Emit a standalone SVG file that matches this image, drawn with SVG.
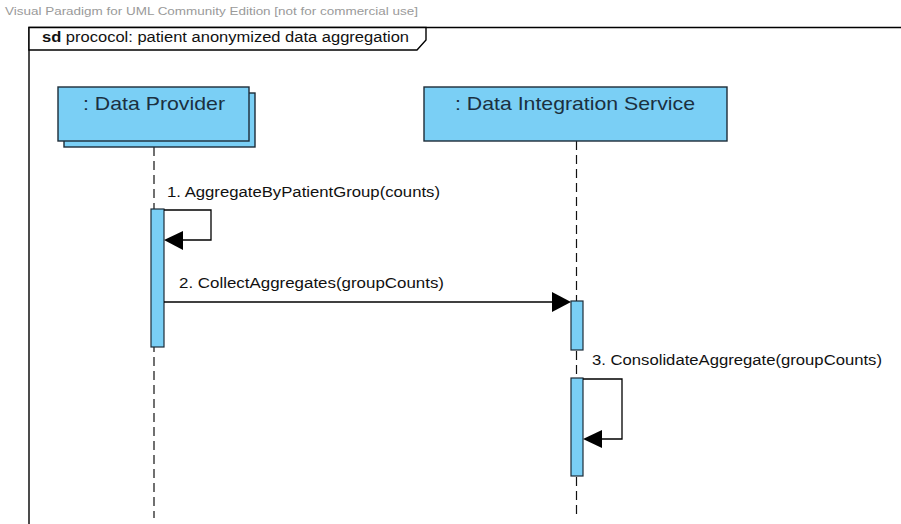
<svg xmlns="http://www.w3.org/2000/svg" width="901" height="524" viewBox="0 0 901 524">
  <style>
    .frame { fill: none; stroke: #000; stroke-width: 1.4; }
    .head { fill: #fff; stroke: #000; stroke-width: 1.4; }
    .obj { fill: #7ACFF5; stroke: #1d2c38; stroke-width: 1.4; }
    .act { fill: #7ACFF5; stroke: #1d2c38; stroke-width: 1.2; }
    .life { fill: none; stroke: #111; stroke-width: 1.2; stroke-dasharray: 9 5; }
    .msg { fill: none; stroke: #000; stroke-width: 1.3; }
    .tip { fill: #000; }
    .objtxt { font-family: "Liberation Sans", Arial, sans-serif; font-size: 19px; fill: #1b3040; }
    .lbl { font-family: "Liberation Sans", Arial, sans-serif; font-size: 14px; fill: #111; }
    .water { font-family: "Liberation Sans", Arial, sans-serif; font-size: 11.5px; fill: #9a9a9a; }
  </style>

  <rect width="901" height="524" fill="#fff"/>

  <!-- watermark -->
  <text class="water" x="5" y="15" textLength="413" lengthAdjust="spacingAndGlyphs">Visual Paradigm for UML Community Edition [not for commercial use]</text>

  <!-- interaction frame -->
  <g id="frame">
    <path class="frame" d="M29 524 V27.5 H901"/>
    <path class="head" d="M29 27.5 H426 V40 L417 50 H29 Z"/>
    <text class="lbl" x="42" y="42" textLength="367" lengthAdjust="spacingAndGlyphs"><tspan font-weight="bold">sd</tspan> prococol: patient anonymized data aggregation</text>
  </g>

  <!-- lifelines -->
  <g id="dataProvider">
    <line class="life" x1="154" y1="147" x2="154" y2="518"/>
    <rect class="obj" x="64" y="93" width="191" height="54"/>
    <rect class="obj" x="58" y="87" width="191" height="54"/>
    <text class="objtxt" x="83" y="110" textLength="142" lengthAdjust="spacingAndGlyphs">: Data Provider</text>
  </g>

  <g id="dataIntegrationService">
    <line class="life" x1="576.5" y1="141" x2="576.5" y2="518"/>
    <rect class="obj" x="424" y="87" width="303" height="54"/>
    <text class="objtxt" x="455" y="110" textLength="240" lengthAdjust="spacingAndGlyphs">: Data Integration Service</text>
  </g>

  <!-- activation bars -->
  <g id="activations">
    <rect class="act" x="151" y="209" width="13" height="138"/>
    <rect class="act" x="571" y="301" width="12" height="49"/>
    <rect class="act" x="571" y="378" width="12" height="98"/>
  </g>

  <!-- messages -->
  <g id="connectors">
    <path class="msg" d="M164 210 H211 V240 H178"/>
    <polygon class="tip" points="164,240 183,231 183,250"/>
    <text class="lbl" x="167" y="197" textLength="273" lengthAdjust="spacingAndGlyphs">1. AggregateByPatientGroup(counts)</text>

    <path class="msg" d="M164 302 H556"/>
    <polygon class="tip" points="571,302 552,292 552,312"/>
    <text class="lbl" x="179" y="288" textLength="265" lengthAdjust="spacingAndGlyphs">2. CollectAggregates(groupCounts)</text>

    <path class="msg" d="M583 379 H622 V439 H597"/>
    <polygon class="tip" points="583,439 602,430 602,448"/>
    <text class="lbl" x="592" y="365" textLength="290" lengthAdjust="spacingAndGlyphs">3. ConsolidateAggregate(groupCounts)</text>
  </g>
</svg>
